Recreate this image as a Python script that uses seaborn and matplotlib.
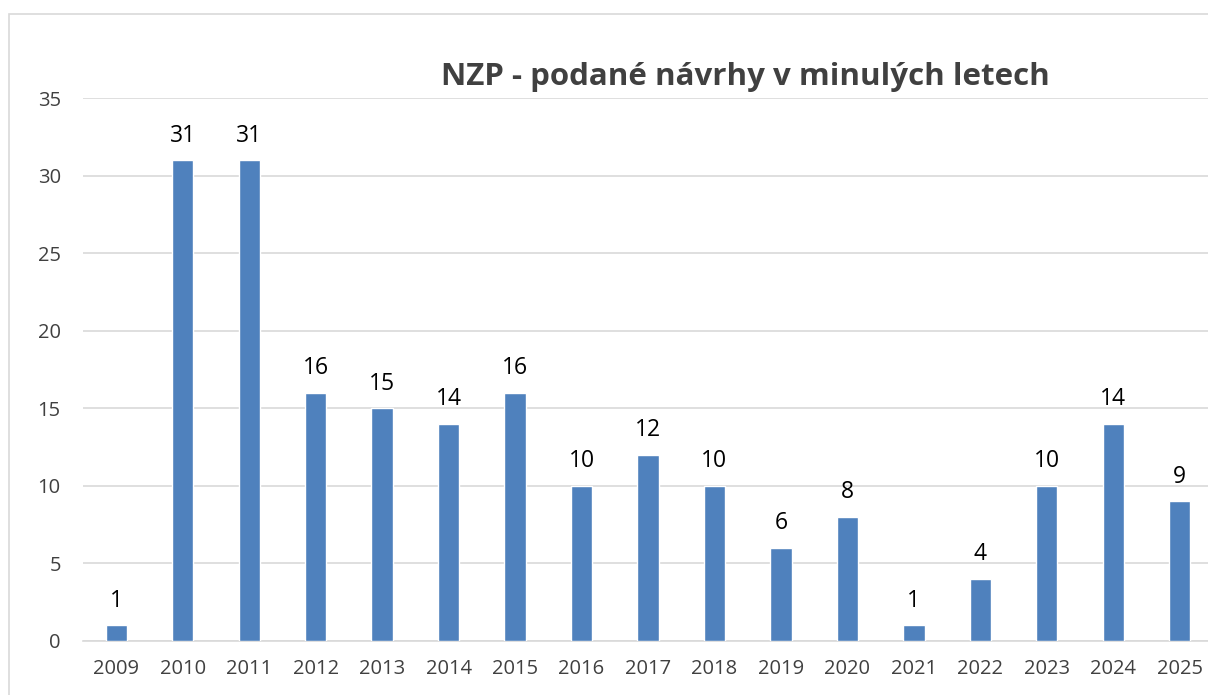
import matplotlib
matplotlib.use("Agg")
import matplotlib.pyplot as plt
import seaborn as sns
import pandas as pd
from matplotlib.patches import Rectangle

years = ["2009", "2010", "2011", "2012", "2013", "2014", "2015", "2016", "2017",
         "2018", "2019", "2020", "2021", "2022", "2023", "2024", "2025"]
counts = [1, 31, 31, 16, 15, 14, 16, 10, 12, 10, 6, 8, 1, 4, 10, 14, 9]
title = "NZP - podané návrhy v minulých letech"

df = pd.DataFrame({"year": years, "count": counts})

sns.set_theme(style="white")
plt.rcParams["font.family"] = ["Open Sans", "DejaVu Sans"]

fig = plt.figure(figsize=(12.08, 6.95), dpi=100)
fig.patches.append(Rectangle((9 / 1208, -0.1), 1.2, (695 - 14) / 695 + 0.1,
                             transform=fig.transFigure, fill=False,
                             edgecolor="#D9D9D9", linewidth=1.2))
ax = fig.add_axes([83 / 1208, 54 / 695, 1130 / 1208, 543 / 695])

sns.barplot(data=df, x="year", y="count", color="#4F81BD", saturation=1,
            width=0.32, ax=ax, zorder=3)

ax.set_ylim(0, 35)
ax.set_xlim(-0.5, len(years) - 0.5)
ax.set_yticks(range(0, 36, 5))
ax.yaxis.grid(True, color="#D9D9D9", linewidth=1.2, zorder=0)
ax.set_axisbelow(True)
for s in ["top", "right", "left"]:
    ax.spines[s].set_visible(False)
ax.spines["bottom"].set_color("#D9D9D9")
ax.spines["bottom"].set_linewidth(1.2)
ax.set_xlabel("")
ax.set_ylabel("")
ax.tick_params(axis="both", length=0, labelsize=14.5, colors="#404040")
ax.tick_params(axis="x", pad=13)
ax.tick_params(axis="y", pad=16)

for c in ax.containers:
    ax.bar_label(c, labels=[str(v) for v in counts], padding=9,
                 fontsize=16.5, color="#000000")

fig.text(745 / 1208, 1 - 77 / 695, title, ha="center", va="center",
         fontsize=22.5, fontweight="bold", color="#404040")

fig.savefig("out.png", dpi=100)
